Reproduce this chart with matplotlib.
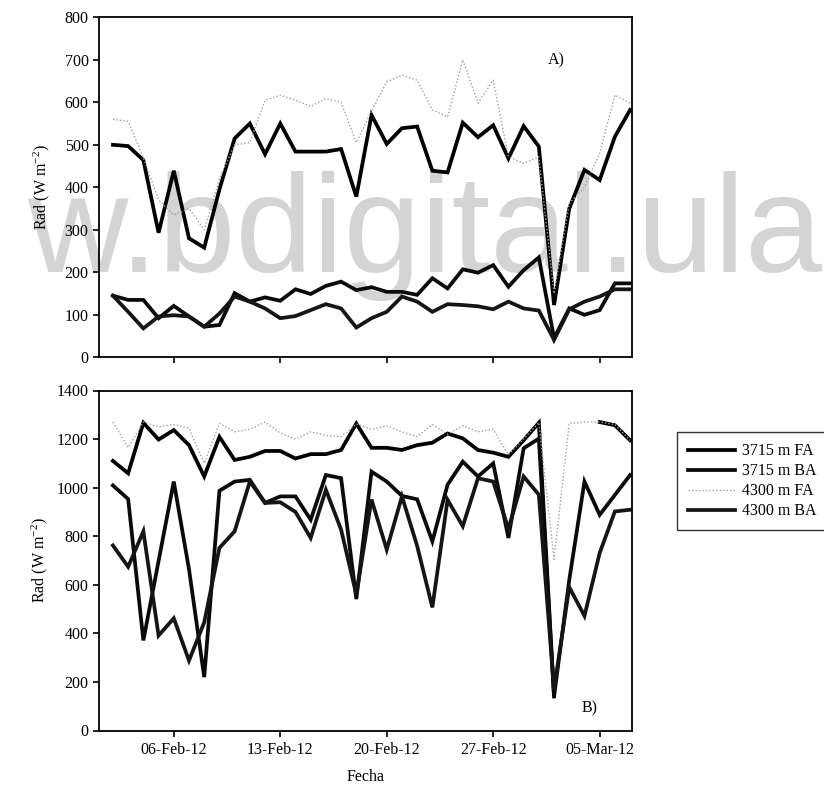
import matplotlib
matplotlib.use('Agg')
import matplotlib.pyplot as plt
import numpy as np
import pandas as pd
from matplotlib.lines import Line2D

# ---------------- data ----------------
dates = pd.date_range('2012-02-02', '2012-03-07', freq='D')
tick_dates = ['2012-02-06', '2012-02-13', '2012-02-20', '2012-02-27', '2012-03-05']
tick_labels = ['06-Feb-12', '13-Feb-12', '20-Feb-12', '27-Feb-12', '05-Mar-12']
series_names = ['3715 m FA', '3715 m BA', '4300 m FA', '4300 m BA']

# Panel A (W m-2)
a_3715_fa = [500, 497, 464, 293, 439, 280, 258, 395, 515, 550, 478, 550, 484, 484, 484, 490, 378,
             570, 502, 539, 543, 439, 435, 552, 518, 546, 468, 544, 496, 123, 350, 441, 417, 519, 582]
a_3715_ba = [145, 135, 135, 92, 121, 96, 72, 76, 151, 131, 141, 133, 160, 149, 168, 178, 158,
             165, 154, 154, 147, 186, 162, 207, 199, 217, 166, 205, 235, 45, 115, 100, 111, 174, 174]
a_4300_fa = [560, 555, 470, 370, 335, 350, 300, 420, 500, 505, 605, 617, 605, 590, 609, 600, 505,
             580, 648, 664, 652, 582, 566, 700, 598, 652, 472, 456, 472, 150, 362, 400, 480, 617, 598]
a_4300_ba = [145, 107, 68, 96, 99, 96, 72, 103, 143, 131, 115, 92, 97, 111, 125, 115, 70,
             92, 107, 143, 131, 107, 125, 123, 120, 113, 131, 115, 110, 41, 113, 131, 143, 160, 160]

# Panel B (W m-2)
nan = np.nan
b_3715_fa = [1110, 1059, 1267, 1198, 1237, 1175, 1046, 1209, 1114, 1127, 1151, 1151, 1120, 1138, 1138, 1155, 1264,
             1164, 1164, 1155, 1175, 1185, 1223, 1203, 1155, 1144, 1127, 1195, 1267, 140, nan, nan, 1270, 1257, 1195]
b_3715_ba = [1009, 953, 371, 698, 1025, 664, 220, 987, 1025, 1032, 937, 964, 964, 868, 1052, 1039, 541,
             1066, 1025, 966, 952, 779, 1012, 1107, 1046, 1100, 793, 1162, 1202, 140, 620, 1025, 888, 970, 1052]
b_4300_fa = [1270, 1165, 1270, 1250, 1260, 1245, 1100, 1265, 1230, 1240, 1270, 1225, 1200, 1230, 1215, 1210, 1262,
             1240, 1255, 1230, 1210, 1260, 1220, 1255, 1230, 1240, 1135, 1200, 1268, 705, 1265, 1270, 1270, 1260, 1195]
b_4300_ba = [762, 674, 820, 391, 462, 288, 445, 752, 820, 1025, 937, 940, 900, 793, 991, 827, 560,
             951, 745, 964, 760, 507, 950, 841, 1039, 1025, 830, 1046, 971, 170, 590, 472, 731, 902, 909]

# ---------------- style ----------------
plt.rcParams['font.family'] = ['Liberation Serif', 'DejaVu Serif']
plt.rcParams['mathtext.fontset'] = 'custom'
plt.rcParams['mathtext.rm'] = 'Liberation Serif'
plt.rcParams['mathtext.it'] = 'Liberation Serif:italic'

styles = {
    '3715 m FA': dict(color='black', lw=2.7, ls='-'),
    '3715 m BA': dict(color='#0a0a0a', lw=2.7, ls='-'),
    '4300 m FA': dict(color='#a0a0a0', lw=1.0, ls=(0, (1, 1.5))),
    '4300 m BA': dict(color='#151515', lw=2.7, ls='-'),
}

fig = plt.figure(figsize=(8.24, 7.92), dpi=100)
fig.patch.set_facecolor('white')

# repository watermark (drawn behind the axes content)
fig.text(822 / 824, 1 - 272 / 792, 'w.bdigital.ula', fontsize=100, color='#d4d4d4',
         family='Liberation Sans', ha='right', va='baseline', zorder=-1)

left = 99 / 824
width = (632 - 99) / 824
axA = fig.add_axes([left, 1 - 357.3 / 792, width, 340 / 792])
axB = fig.add_axes([left, 1 - 730.5 / 792, width, 340 / 792])

panelA = [a_4300_fa, a_3715_fa, a_3715_ba, a_4300_ba]
panelB = [b_4300_fa, b_3715_fa, b_3715_ba, b_4300_ba]
order = ['4300 m FA', '3715 m FA', '3715 m BA', '4300 m BA']

for ax, data in ((axA, panelA), (axB, panelB)):
    ax.set_facecolor('none')
    for name, vals in zip(order, data):
        st = styles[name]
        ax.plot(dates, vals, color=st['color'], lw=st['lw'], ls=st['ls'],
                solid_joinstyle='miter', zorder=3 if name == '4300 m FA' else 2)
    ax.set_xlim(pd.Timestamp('2012-02-01 02:00'), pd.Timestamp('2012-03-07 03:00'))
    ax.set_xticks(pd.to_datetime(tick_dates))
    for s in ax.spines.values():
        s.set_linewidth(1.3)
    ax.tick_params(direction='out', length=4, width=1.2, labelsize=11.5)

axA.set_ylim(0, 800)
axA.set_yticks(np.arange(0, 801, 100))
axA.set_xticklabels([])
axB.set_ylim(0, 1400)
axB.set_yticks(np.arange(0, 1401, 200))
axB.set_xticklabels(tick_labels)
axB.tick_params(axis='x', pad=4)

axA.set_ylabel('Rad (W m$^{-2}$)', fontsize=11.5, labelpad=9)
axB.set_ylabel('Rad (W m$^{-2}$)', fontsize=11.5, labelpad=5)
axB.set_xlabel('Fecha', fontsize=11.5, labelpad=8)

axA.text(0.842, 0.873, 'A)', transform=axA.transAxes, fontsize=11.5, va='center')
axB.text(0.905, 0.066, 'B)', transform=axB.transAxes, fontsize=11.5, va='center')

handles = [Line2D([0], [0], color=styles[n]['color'], lw=styles[n]['lw'], ls=styles[n]['ls'])
           for n in series_names]
leg = fig.legend(handles, series_names, loc='upper left',
                 bbox_to_anchor=(677 / 824, 1 - 432 / 792), fontsize=11.5,
                 frameon=True, fancybox=False, edgecolor='black', handlelength=2.9,
                 borderpad=0.7, labelspacing=0.25, handletextpad=0.5, borderaxespad=0)
leg.get_frame().set_linewidth(1.0)

fig.savefig('out.png', dpi=100, facecolor='white')
